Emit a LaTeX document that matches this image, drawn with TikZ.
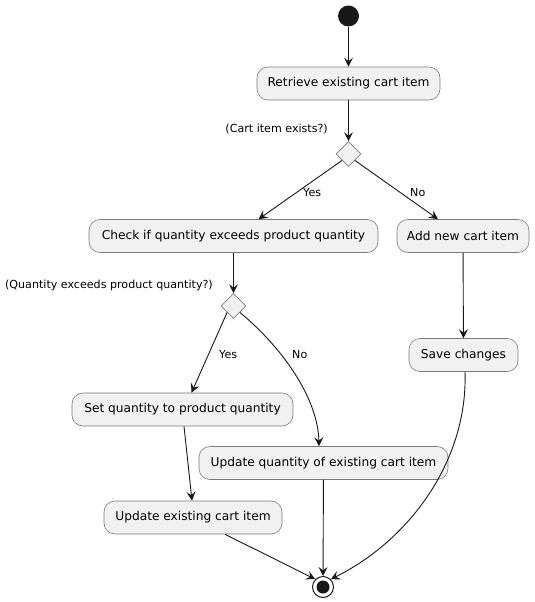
\documentclass[tikz,border=0pt]{standalone}
\usepackage{fontspec}
\setmainfont{DejaVu Sans}
\usetikzlibrary{shapes.geometric,arrows.meta}
\definecolor{boxfill}{HTML}{F1F1F1}
\definecolor{edge}{HTML}{181818}
\definecolor{rim}{HTML}{7A7A7A}
\begin{document}
\begin{tikzpicture}[x=1pt,y=-1pt,
  action/.style={draw=rim,fill=boxfill,rounded corners=11pt,line width=0.6pt,
    minimum height=33pt,inner sep=0pt,font=\fontsize{12.2}{14}\selectfont},
  choice/.style={diamond,draw=rim,fill=boxfill,line width=0.6pt,aspect=1,
    minimum size=25pt,inner sep=0pt},
  guard/.style={font=\fontsize{11.1}{13}\selectfont,inner sep=0pt},
  flow/.style={draw=edge,line width=0.9pt,
    -{Stealth[length=9pt,width=9pt,inset=3.5pt]}}]
\useasboundingbox (0,0) rectangle (535,602);

% start and end markers
\node (start) [circle,fill=edge,minimum size=21pt,inner sep=0pt] at (348.5,16) {};
\node (stop) [circle,draw=edge,fill=white,line width=1pt,minimum size=21pt,inner sep=0pt] at (323,587) {};
\node (stopdot) [circle,fill=edge,minimum size=13pt,inner sep=0pt] at (323,587) {};

% activities
\node (retrieve) [action,minimum width=183pt] at (348.5,83.5) {Retrieve existing cart item};
\node (check) [action,minimum width=289pt] at (233.5,236) {Check if quantity exceeds product quantity};
\node (addnew) [action,minimum width=132pt] at (463,236) {Add new cart item};
\node (setq) [action,minimum width=221pt] at (182.5,409.5) {Set quantity to product quantity};
\node (updq) [action,minimum width=249pt] at (323.5,463) {Update quantity of existing cart item};
\node (upditem) [action,minimum width=178pt] at (193,517.5) {Update existing cart item};
\node (save) [action,minimum width=109pt] at (463.5,355) {Save changes};

% decisions
\node (d1) [choice] at (348.5,154) {};
\node (d2) [choice] at (233.5,306) {};
\node (q1) [guard,anchor=east] at (328,129) {(Cart item exists?)};
\node (q2) [guard,anchor=east] at (213,285) {(Quantity exceeds product quantity?)};

% branch labels
\node (yes1) [guard,anchor=west] at (303,193) {Yes};
\node (no1) [guard,anchor=west] at (410,193) {No};
\node (yes2) [guard,anchor=west] at (219,355) {Yes};
\node (no2) [guard,anchor=west] at (292,355) {No};

% connectors
\draw[flow] (start) -- (retrieve);
\draw[flow] (retrieve) -- (d1);
\draw[flow] (d1.south west) -- ([xshift=25pt]check.north);
\draw[flow] (d1.south east) -- ([xshift=-25pt]addnew.north);
\draw[flow] (check) -- (d2);
\draw[flow] (d2.south west) -- ([xshift=9pt]setq.north);
\draw[flow] (d2.south east) .. controls (285,350) and (318,400) .. ([xshift=-4.5pt]updq.north);
\draw[flow] ([xshift=1.5pt]setq.south) -- ([xshift=-1pt]upditem.north);
\draw[flow] (addnew) -- (save);
\draw[flow] (updq) -- (stop);
\draw[flow] ([xshift=32pt]upditem.south) -- (stop.north west);
\draw[flow] ([xshift=1.5pt]save.south) .. controls (468,460) and (410,540) .. (stop.north east);
\end{tikzpicture}
\end{document}
